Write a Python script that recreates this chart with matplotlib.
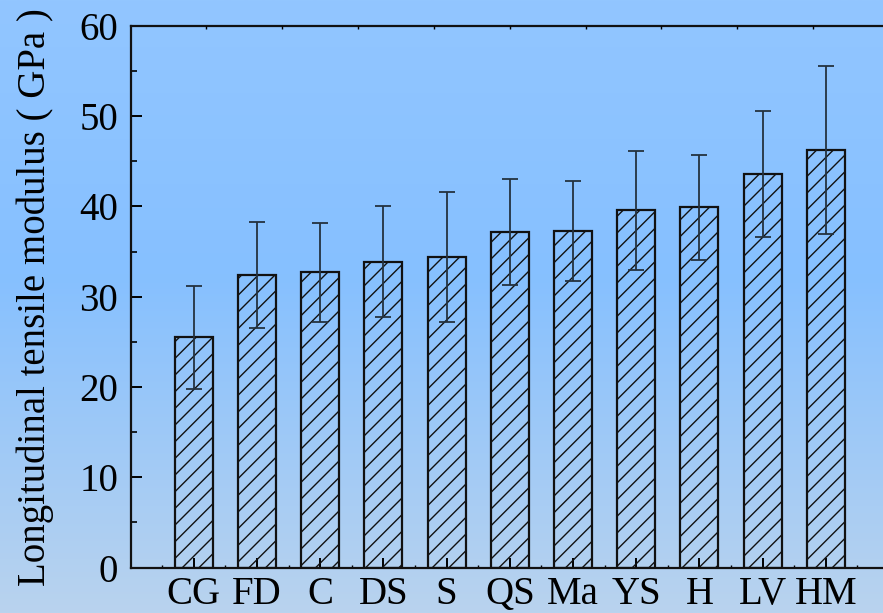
import numpy as np
import matplotlib
matplotlib.use("Agg")
import matplotlib.pyplot as plt
from matplotlib.colors import LinearSegmentedColormap

# data
groups = ["CG", "FD", "C", "DS", "S", "QS", "Ma", "YS", "H", "LV", "HM"]
modulus = [25.5, 32.4, 32.7, 33.9, 34.4, 37.2, 37.3, 39.6, 39.9, 43.6, 46.3]
modulus_sd = [5.7, 5.9, 5.5, 6.1, 7.2, 5.9, 5.5, 6.6, 5.8, 7.0, 9.3]

plt.rcParams["font.family"] = ["Liberation Serif", "DejaVu Serif"]
plt.rcParams["hatch.linewidth"] = 1.0
plt.rcParams["hatch.color"] = "#111111"

fig = plt.figure(figsize=(8.83, 6.13), dpi=100)

# light blue gradient background behind everything
bg = fig.add_axes([0, 0, 1, 1], zorder=-10)
cmap = LinearSegmentedColormap.from_list(
    "bg", [(0.0, "#92C6FF"), (0.45, "#86C0FF"), (1.0, "#B9D3EE")])
grad = np.linspace(0, 1, 256).reshape(-1, 1)
bg.imshow(grad, aspect="auto", cmap=cmap, extent=[0, 1, 0, 1])
bg.set_axis_off()

ax = fig.add_axes([0.1478, 0.0742, 0.859, 0.8834])
ax.set_facecolor("none")

x = np.arange(1, len(groups) + 1)
ax.bar(x, modulus, width=0.6, facecolor="none", edgecolor="#111111",
       linewidth=1.6, hatch="//", zorder=2)
ax.errorbar(x, modulus, yerr=modulus_sd, fmt="none", ecolor="#24323f",
            elinewidth=1.3, capsize=6, capthick=1.3, zorder=3)

ax.set_xlim(0, 12)
ax.set_ylim(0, 60)
ax.set_xticks(x)
ax.set_xticklabels(groups)
ax.set_xticks(np.arange(0.5, 12, 1.0), minor=True)
ax.set_yticks(np.arange(0, 61, 10))
ax.set_yticks(np.arange(5, 60, 10), minor=True)

ax.tick_params(axis="y", which="major", direction="in", length=8, width=1.4,
               labelsize=28, pad=9)
ax.tick_params(axis="y", which="minor", direction="in", length=4.5, width=1.2)
ax.tick_params(axis="x", which="major", direction="in", length=7, width=1.4,
               labelsize=28, pad=6)
ax.tick_params(axis="x", which="minor", direction="in", length=2, width=1.0)

for side in ["left", "bottom", "top"]:
    ax.spines[side].set_linewidth(1.6)
    ax.spines[side].set_color("#111111")
ax.spines["right"].set_visible(False)

# tiny marks along the top frame
top = ax.twiny()
top.set_xlim(ax.get_xlim())
top.set_xticks(np.arange(1.2, 12, 1.2))
top.set_xticklabels([])
top.tick_params(axis="x", direction="in", length=2, width=1.0)
for s in top.spines.values():
    s.set_visible(False)

ax.set_ylabel("Longitudinal tensile modulus ( GPa )", fontsize=28, labelpad=18)

fig.savefig("out.png", dpi=100)
